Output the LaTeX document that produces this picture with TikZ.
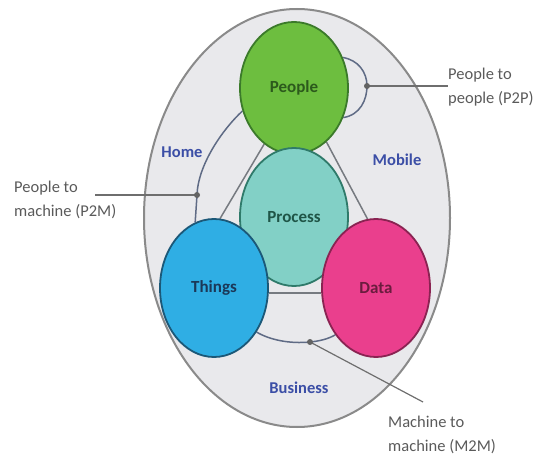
\documentclass[tikz,border=0pt]{standalone}
\usepackage{fontspec}
\setmainfont{Carlito}
\usetikzlibrary{shapes.geometric}
\definecolor{framefill}{HTML}{E9E9EC}
\definecolor{framedraw}{HTML}{8A8A8A}
\definecolor{peoplefill}{HTML}{6DBE3F}
\definecolor{peopledraw}{HTML}{3B7A2A}
\definecolor{peopletext}{HTML}{2C5A1C}
\definecolor{processfill}{HTML}{82D0C6}
\definecolor{processdraw}{HTML}{2F7A6A}
\definecolor{processtext}{HTML}{1F5547}
\definecolor{thingsfill}{HTML}{2FAEE4}
\definecolor{thingsdraw}{HTML}{1B5878}
\definecolor{thingstext}{HTML}{1B3858}
\definecolor{datafill}{HTML}{EA3F8D}
\definecolor{datadraw}{HTML}{8A2352}
\definecolor{datatext}{HTML}{6A1C3E}
\definecolor{zonetext}{HTML}{3B4EA6}
\definecolor{arcline}{HTML}{5F6B85}
\definecolor{triline}{HTML}{767A80}
\definecolor{calltext}{HTML}{5A5A5A}
\definecolor{callline}{HTML}{6E6E6E}
\begin{document}
\begin{tikzpicture}[x=1pt,y=-1pt,
  blob/.style={ellipse, line width=1.8pt, inner sep=0pt, minimum width=108pt, minimum height=134pt,
     font=\fontsize{17}{20}\selectfont\bfseries},
  zone/.style={inner sep=0pt, text=zonetext, font=\fontsize{16.5}{20}\selectfont\bfseries},
  callout/.style={inner sep=0pt, align=left, text=calltext, font=\fontsize{16.5}{24}\selectfont},
  arcl/.style={draw=arcline, line width=1.5pt},
  tril/.style={draw=triline, line width=1.5pt},
  calll/.style={draw=callline, line width=1.2pt},
  dotm/.style={circle, fill=callline!90!black, inner sep=0pt, minimum size=6pt}]
\useasboundingbox (0,0) rectangle (540,462);
% outer frame
\node[ellipse, fill=framefill, draw=framedraw, line width=2pt, minimum width=306pt, minimum height=418pt] (frame) at (297,218) {};
% circles (placed first so anchors exist), drawn later on top
\path (294,88) coordinate (pc) (294,217) coordinate (prc) (214,288) coordinate (tc) (376,288) coordinate (dc);
\path node[blob, minimum height=132pt] (people) at (pc) {}
      node[blob, minimum height=138pt] (process) at (prc) {}
      node[blob, minimum height=138pt] (things) at (tc) {}
      node[blob, minimum height=138pt] (data) at (dc) {};
% named coordinates
\coordinate (p2pdot) at (367,86);
\coordinate (p2mdot) at (197,195);
\coordinate (m2mdot) at (310,342);
\coordinate (p2mend) at (95,195);
\coordinate (m2mend) at (423,402);
% triangle lines
\draw[tril] (people.242) -- (things.85);
\draw[tril] (people.301) -- (data.97);
\draw[tril] (things.-5) -- (data.185);
% relation arcs
\draw[arcl] (people.204) .. controls (222,130) and (198,165) .. (p2mdot) -- (things.106);
\draw[arcl] (people.32) .. controls (358,60) and (367,72) .. (p2pdot) .. controls (367,100) and (360,115) .. (people.-31);
\draw[arcl] (things.-46) .. controls (270,340) and (290,344) .. (m2mdot) .. controls (320,341) and (328,339) .. (data.229);
% circles on top
\node[blob, minimum height=132pt, fill=peoplefill, draw=peopledraw, text=peopletext] (peopleT) at (pc) {People};
\node[blob, minimum height=138pt, fill=processfill, draw=processdraw, text=processtext] (processT) at (prc) {Process};
\node[blob, minimum height=138pt, fill=thingsfill, draw=thingsdraw, text=thingstext] (thingsT) at (tc) {Things};
\node[blob, minimum height=138pt, fill=datafill, draw=datadraw, text=datatext] (dataT) at (dc) {Data};
% zones
\node[zone] (home) at (182,152) {Home};
\node[zone] (mobile) at (397,160) {Mobile};
\node[zone] (business) at (299,388) {Business};
% callouts
\node[callout, anchor=west] (p2plabel) at (448,87) {People to\\people (P2P)};
\node[callout, anchor=west] (p2mlabel) at (14,200) {People to\\machine (P2M)};
\node[callout, anchor=west] (m2mlabel) at (388,435) {Machine to\\machine (M2M)};
\draw[calll] (p2pdot) -- (p2pdot -| p2plabel.west);
\draw[calll] (p2mend) -- (p2mdot);
\draw[calll] (m2mdot) -- (m2mend);
\node[dotm] (p2pd) at (p2pdot) {};
\node[dotm] (p2md) at (p2mdot) {};
\node[dotm] (m2md) at (m2mdot) {};
\end{tikzpicture}
\end{document}
